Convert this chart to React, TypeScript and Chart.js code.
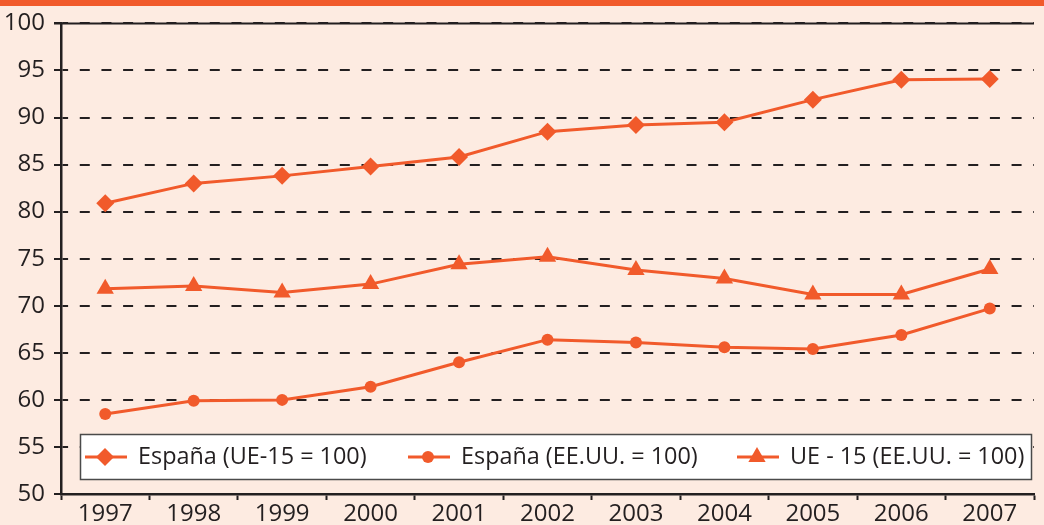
import React, { useEffect, useRef } from "react";
import { Chart, registerables } from "chart.js";

Chart.register(...registerables);

// ---- data ----
const years = ["1997", "1998", "1999", "2000", "2001", "2002", "2003", "2004", "2005", "2006", "2007"];
const espanaUE15 = [80.9, 83.0, 83.8, 84.8, 85.8, 88.5, 89.2, 89.5, 91.9, 94.0, 94.1];
const espanaEEUU = [58.5, 59.9, 60.0, 61.4, 64.0, 66.4, 66.1, 65.6, 65.4, 66.9, 69.7];
const ue15EEUU = [71.8, 72.1, 71.4, 72.3, 74.4, 75.2, 73.8, 72.9, 71.2, 71.2, 73.9];
const seriesLabels = ["España (UE-15 = 100)", "España (EE.UU. = 100)", "UE - 15 (EE.UU. = 100)"];
const yMin = 50;
const yMax = 100;
const yStep = 5;

// ---- styles ----
const ORANGE = "#F15A2B";
const DARK = "#231F20";
const BG = "#FDEBE1";
const FONT = "'Open Sans', 'Noto Sans', sans-serif";
const FONT_SIZE = 24;
const LEGEND_FONT_SIZE = 23.4;

function drawMarker(ctx: CanvasRenderingContext2D, style: string, x: number, y: number, r: number) {
  ctx.beginPath();
  if (style === "rectRot") {
    ctx.moveTo(x - r, y);
    ctx.lineTo(x, y - r);
    ctx.lineTo(x + r, y);
    ctx.lineTo(x, y + r);
  } else if (style === "triangle") {
    for (let k = 0; k < 3; k++) {
      const a = (k * 2 * Math.PI) / 3;
      const px = x + Math.sin(a) * r;
      const py = y - Math.cos(a) * r;
      if (k === 0) ctx.moveTo(px, py);
      else ctx.lineTo(px, py);
    }
  } else {
    ctx.arc(x, y, r, 0, Math.PI * 2);
  }
  ctx.closePath();
  ctx.fill();
}

const framePlugin = {
  id: "frameAndLegend",
  afterDraw(chart: any) {
    const { ctx, chartArea } = chart;
    ctx.save();
    // solid top line at 100
    ctx.strokeStyle = DARK;
    ctx.lineWidth = 2;
    ctx.beginPath();
    ctx.moveTo(chartArea.left - 7, chartArea.top);
    ctx.lineTo(chartArea.right, chartArea.top);
    ctx.stroke();

    // legend box
    const bx = 80.5, by = 434.5, bw = 951, bh = 45;
    ctx.fillStyle = "#FFFFFF";
    ctx.fillRect(bx, by, bw, bh);
    ctx.strokeStyle = "#4A4A4A";
    ctx.lineWidth = 1.5;
    ctx.strokeRect(bx, by, bw, bh);

    const starts = [85, 408, 737];
    const ly = 457;
    chart.data.datasets.forEach((ds: any, i: number) => {
      const x0 = starts[i];
      ctx.strokeStyle = ds.borderColor;
      ctx.lineWidth = 3;
      ctx.beginPath();
      ctx.moveTo(x0, ly);
      ctx.lineTo(x0 + 42, ly);
      ctx.stroke();
      ctx.fillStyle = ds.pointBackgroundColor;
      drawMarker(ctx, ds.pointStyle, x0 + 20, ly, ds.pointRadius);
      ctx.fillStyle = DARK;
      ctx.font = `${LEGEND_FONT_SIZE}px ${FONT}`;
      ctx.textBaseline = "middle";
      ctx.textAlign = "left";
      ctx.fillText(ds.label, x0 + 53, ly);
    });
    ctx.restore();
  },
};

export default function App() {
  const ref = useRef<HTMLCanvasElement>(null);

  useEffect(() => {
    const canvas = ref.current;
    if (!canvas) return;
    const mk = (label: string, data: number[], style: string, r: number) => ({
      label,
      data,
      borderColor: ORANGE,
      backgroundColor: ORANGE,
      pointBackgroundColor: ORANGE,
      pointBorderColor: ORANGE,
      pointBorderWidth: 0,
      pointStyle: style,
      pointRadius: r,
      borderWidth: 3,
      tension: 0,
      fill: false,
    });
    const chart = new Chart(canvas, {
      type: "line",
      data: {
        labels: years,
        datasets: [
          mk(seriesLabels[0], espanaUE15, "rectRot", 9),
          mk(seriesLabels[1], espanaEEUU, "circle", 6),
          mk(seriesLabels[2], ue15EEUU, "triangle", 10),
        ] as any,
      },
      options: {
        responsive: false,
        animation: false,
        devicePixelRatio: 1,
        layout: { padding: { top: 21, left: 0, right: 0, bottom: 0 } },
        plugins: { legend: { display: false }, tooltip: { enabled: false }, title: { display: false } },
        scales: {
          x: {
            type: "category",
            offset: true,
            grid: {
              display: true,
              drawOnChartArea: false,
              offset: true,
              tickLength: 6,
              tickColor: DARK,
              tickWidth: 2,
            },
            border: { display: true, color: DARK, width: 2.5 },
            ticks: {
              color: DARK,
              font: { family: FONT, size: FONT_SIZE },
              padding: 0,
              maxRotation: 0,
              autoSkip: false,
            },
            afterFit: (s: any) => {
              s.height = 31;
            },
          },
          y: {
            min: yMin,
            max: yMax,
            ticks: {
              stepSize: yStep,
              color: DARK,
              font: { family: FONT, size: FONT_SIZE },
              padding: 9,
            },
            grid: {
              color: DARK,
              lineWidth: 2,
              tickLength: 7,
              tickColor: DARK,
              tickWidth: 2,
            },
            border: { display: true, color: DARK, width: 2.5, dash: [10, 11.67], dashOffset: 4.4 },
            afterFit: (s: any) => {
              s.width = 61;
            },
          },
        },
      } as any,
      plugins: [framePlugin],
    });
    return () => chart.destroy();
  }, []);

  return (
    <div
      style={{
        position: "fixed",
        left: 0,
        top: 0,
        width: 1044,
        height: 525,
        background: BG,
        overflow: "hidden",
      }}
    >
      <div style={{ position: "absolute", left: 0, top: 0, width: 1044, height: 6, background: ORANGE }} />
      <canvas ref={ref} width={1044} height={525} style={{ position: "absolute", left: 0, top: 0, width: 1044, height: 525 }} />
    </div>
  );
}
